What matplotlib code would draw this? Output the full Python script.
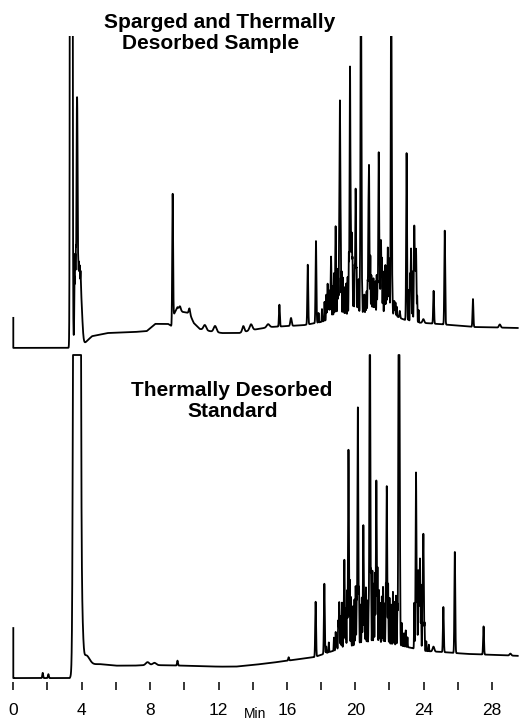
import numpy as np
import matplotlib
matplotlib.use("Agg")
import matplotlib.pyplot as plt

plt.rcParams["font.family"] = ["Liberation Sans", "DejaVu Sans"]

# Retention-time sampling of the detector trace (minutes)
rt = np.arange(0.0, 29.5, 0.002)

# ---------------- Sparged and thermally desorbed sample ----------------
sample_start_level = 10.8
sample_base_rt = [0.0, 3.3, 4.0, 4.25, 4.6, 5.5, 7.0, 7.8, 8.3, 9.05, 9.25, 9.4, 9.6,
                  9.9, 10.3, 10.55, 10.9, 11.5, 12.2, 13.2, 14.0, 15.0, 16.0, 17.0,
                  18.0, 19.0, 20.0, 21.0, 22.0, 22.6, 23.2, 24.0, 25.0, 27.0, 29.5]
sample_base_level = [1.3, 1.3, 2.0, 3.2, 5.0, 6.0, 6.3, 6.6, 8.9, 8.9, 8.2, 12.0, 14.2,
                     12.7, 12.3, 9.2, 7.3, 6.6, 6.0, 6.0, 7.0, 7.9, 8.2, 8.5,
                     9.5, 11.4, 12.0, 12.3, 12.6, 10.8, 9.5, 9.2, 8.8, 7.9, 7.6]

# solvent front (off scale)
sample_solvent_rt = [3.39]
sample_solvent_height = [3000.0]
sample_solvent_width = [0.035]

# broad features: solvent tail and small humps
sample_broad_rt = [3.75, 3.95, 9.75, 10.3, 11.2, 11.8, 13.45, 13.9, 14.9, 16.24, 23.98, 28.45]
sample_broad_height = [16.0, 14.0, 1.0, 1.5, 1.6, 1.9, 1.9, 1.9, 1.0, 2.5, 1.2, 1.0]
sample_broad_width = [0.12, 0.08, 0.04, 0.04, 0.08, 0.08, 0.06, 0.08, 0.08, 0.04, 0.05, 0.05]

# resolved peaks
sample_peak_rt = [3.73, 9.32, 15.56, 17.22, 17.70, 18.38, 18.58, 18.85, 19.10, 19.69,
                  19.79, 20.02, 20.33, 20.80, 21.37, 21.50, 21.90, 22.10, 22.28, 22.60,
                  23.00, 23.26, 23.45, 23.55, 24.58, 25.23, 26.88]
sample_peak_height = [60.0, 40.1, 6.9, 18.9, 25.9, 11.4, 19.6, 28.7, 68.1, 78.5,
                      25.9, 39.7, 115.0, 46.7, 50.8, 23.0, 20.5, 112.0, 4.4, 2.2,
                      53.0, 23.3, 30.6, 23.3, 10.4, 29.7, 8.8]

# unresolved small peaks
sample_minor_rt = [3.58, 3.62, 3.66, 3.70, 3.76, 3.80, 3.84, 3.88, 3.93,
                   17.85, 18.05, 18.20, 18.30, 18.45, 18.50, 18.68, 18.75, 18.95, 19.00,
                   19.05, 19.15, 19.20, 19.27, 19.33, 19.40, 19.47, 19.55, 19.62, 19.74,
                   19.84, 19.90, 19.96, 20.08, 20.14, 20.20, 20.27, 20.40, 20.47, 20.53,
                   20.60, 20.66, 20.72, 20.76, 20.88, 20.94, 21.00, 21.06, 21.12, 21.18,
                   21.25, 21.30, 21.43, 21.56, 21.62, 21.70, 21.76, 21.82, 21.95, 22.00,
                   22.17, 22.35, 22.42, 23.12, 23.20, 23.35, 23.50, 23.62, 23.70]
sample_minor_height = [16.0, 20.0, 18.0, 16.0, 12.0, 10.0, 9.0, 7.0, 5.0,
                       3.0, 4.0, 6.0, 8.0, 9.0, 6.0, 10.0, 14.0, 15.0, 12.0,
                       18.0, 20.0, 14.0, 12.0, 9.0, 7.0, 10.0, 12.0, 18.0, 16.0,
                       14.0, 11.0, 13.0, 12.0, 9.0, 11.0, 8.0, 7.0, 5.0, 6.0,
                       4.0, 7.0, 10.0, 16.0, 18.0, 12.0, 9.0, 11.0, 8.0, 10.0,
                       12.0, 9.0, 14.0, 16.0, 13.0, 11.0, 15.0, 12.0, 14.0, 10.0,
                       8.0, 4.0, 3.0, 10.0, 14.0, 16.0, 12.0, 8.0, 4.0]

# ---------------- Thermally desorbed standard ----------------
standard_start_level = 16.5
standard_base_rt = [0.0, 3.3, 3.9, 4.3, 5.0, 6.0, 7.0, 8.0, 10.0, 12.0, 13.0, 14.0,
                    15.0, 16.0, 17.0, 17.6, 18.5, 19.5, 20.5, 21.5, 22.5, 23.3, 24.0,
                    25.0, 26.5, 28.0, 29.5]
standard_base_level = [1.2, 1.2, 5.0, 5.2, 5.5, 5.0, 5.0, 5.2, 5.0, 4.7, 4.7, 5.2,
                       5.8, 6.5, 7.2, 7.6, 9.2, 10.7, 11.9, 12.2, 11.3, 10.4, 9.5,
                       9.2, 8.6, 8.3, 8.0]
standard_saturation = 100.0

standard_solvent_rt = [3.72]
standard_solvent_height = [5000.0]
standard_solvent_width = [0.085]

standard_broad_rt = [4.00, 4.25, 7.85, 8.25, 24.57, 29.07]
standard_broad_height = [15.0, 3.0, 0.9, 0.7, 1.5, 0.6]
standard_broad_width = [0.07, 0.2, 0.1, 0.1, 0.05, 0.05]

standard_peak_rt = [1.72, 2.05, 9.60, 16.10, 17.68, 18.19, 18.90, 19.06, 19.36, 19.60,
                    20.15, 20.47, 20.85, 21.23, 21.84, 22.54, 22.58, 23.55, 23.78, 23.98,
                    25.15, 25.82, 27.50]
standard_peak_height = [1.6, 1.2, 1.5, 1.0, 16.8, 21.4, 4.0, 14.4, 26.9, 60.2,
                        72.5, 36.1, 115.0, 49.5, 48.0, 115.0, 64.0, 54.0, 28.0, 35.8,
                        13.8, 30.9, 8.6]

standard_minor_rt = [18.30, 18.45, 18.75, 18.85, 19.00, 19.15, 19.22, 19.30, 19.45, 19.52,
                     19.68, 19.75, 19.85, 19.95, 20.02, 20.08, 20.22, 20.30, 20.38, 20.55,
                     20.62, 20.70, 20.78, 20.92, 21.00, 21.08, 21.15, 21.30, 21.38, 21.45,
                     21.55, 21.62, 21.70, 21.78, 21.92, 22.00, 22.10, 22.20, 22.28, 22.38,
                     22.46, 22.62, 22.72, 22.85, 22.95, 23.05, 23.45, 23.62, 23.68, 23.72,
                     23.85, 23.92, 24.05, 24.15, 24.30]
standard_minor_height = [2.0, 3.0, 4.0, 5.0, 8.0, 10.0, 14.0, 11.0, 12.0, 17.0,
                         20.0, 15.0, 12.0, 14.0, 18.0, 13.0, 16.0, 12.0, 14.0, 11.0,
                         17.0, 13.0, 10.0, 20.0, 22.0, 18.0, 21.0, 22.0, 16.0, 12.0,
                         14.0, 17.0, 12.0, 15.0, 18.0, 14.0, 12.0, 16.0, 13.0, 15.0,
                         12.0, 10.0, 7.0, 4.0, 5.0, 3.0, 14.0, 20.0, 24.0, 16.0,
                         14.0, 18.0, 8.0, 3.0, 2.0]

# time axis ticks
tick_major = [0, 4, 8, 12, 16, 20, 24, 28]
tick_minor = [2, 6, 10, 14, 18, 22, 26]

PEAK_SIGMA = 0.025
MINOR_SIGMA = 0.014


def gaussians(t, centers, heights, widths):
    c = np.asarray(centers, float)[:, None]
    h = np.asarray(heights, float)[:, None]
    w = np.broadcast_to(np.asarray(widths, float), c.shape[:1])[:, None]
    return (h * np.exp(-0.5 * ((t[None, :] - c) / w) ** 2)).sum(axis=0)


def build(base_rt, base_level, groups):
    sig = np.interp(rt, base_rt, base_level)
    for centers, heights, widths in groups:
        sig = sig + gaussians(rt, centers, heights, widths)
    return sig


sample = build(sample_base_rt, sample_base_level, [
    (sample_solvent_rt, sample_solvent_height, sample_solvent_width),
    (sample_broad_rt, sample_broad_height, sample_broad_width),
    (sample_peak_rt, sample_peak_height, PEAK_SIGMA),
    (sample_minor_rt, sample_minor_height, MINOR_SIGMA),
])
standard = build(standard_base_rt, standard_base_level, [
    (standard_solvent_rt, standard_solvent_height, standard_solvent_width),
    (standard_broad_rt, standard_broad_height, standard_broad_width),
    (standard_peak_rt, standard_peak_height, PEAK_SIGMA),
    (standard_minor_rt, standard_minor_height, MINOR_SIGMA),
])
standard = np.minimum(standard, standard_saturation)

# ---------------- figure ----------------
W, H = 519, 719
fig = plt.figure(figsize=(W / 100, H / 100), dpi=100)


def px_axes(top, bottom):
    return fig.add_axes([0, 1 - bottom / H, 1, (bottom - top) / H])


x0_px, px_per_min = 13.3, 17.1
xlim = (-x0_px / px_per_min, (W - x0_px) / px_per_min)

ax_top = px_axes(36, 352)
ax_bot = px_axes(353, 682)

for ax in (ax_top, ax_bot):
    ax.set_xlim(*xlim)
    for s in ax.spines.values():
        s.set_visible(False)
    ax.patch.set_alpha(0)

ax_top.set_ylim(0, 100)
ax_bot.set_ylim(0, 329 / 3.27)

ax_top.plot(np.r_[0.0, rt], np.r_[sample_start_level, sample], color="black", lw=1.3)
ax_bot.plot(np.r_[0.0, rt], np.r_[standard_start_level, standard], color="black", lw=1.3)

ax_top.set_xticks([])
ax_top.set_yticks([])
ax_bot.set_yticks([])
ax_bot.set_xticks(tick_major)
ax_bot.set_xticklabels([str(v) for v in tick_major])
ax_bot.set_xticks(tick_minor, minor=True)
ax_bot.tick_params(axis="x", which="both", direction="out", length=5.8, width=1.1,
                   color="black")
ax_bot.tick_params(axis="x", which="major", pad=9, labelsize=12.5)

bold = dict(ha="center", va="baseline", fontsize=15, fontweight="bold")
fig.text(220 / W, 1 - 28.3 / H, "Sparged and Thermally", **bold)
fig.text(211 / W, 1 - 49.3 / H, "Desorbed Sample", **bold)
fig.text(232 / W, 1 - 395.7 / H, "Thermally Desorbed", **bold)
fig.text(232.5 / W, 1 - 416.7 / H, "Standard", **bold)
fig.text(255 / W, 1 - 717.5 / H, "Min", ha="center", va="baseline", fontsize=10)

fig.savefig("out.png", dpi=100)
